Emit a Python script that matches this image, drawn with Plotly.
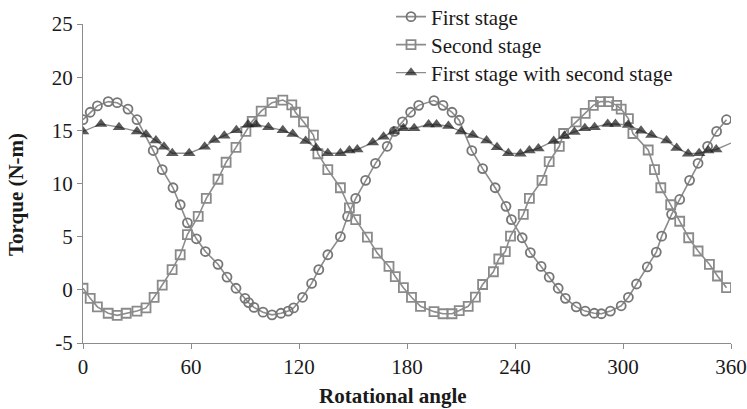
import plotly.graph_objects as go

# First stage
first_x = [0, 4, 8, 14, 19, 25, 30, 39, 44, 50, 54, 58, 63, 68, 75, 80, 85, 90, 92, 95,
           100, 105, 110, 114, 117, 122, 127, 131, 136, 143, 147, 151.5, 157, 162.5, 169,
           173, 177.5, 182, 186.5, 195, 200, 205, 209, 216, 222, 229, 235, 238, 244, 248.5,
           254.5, 259, 264, 268, 274, 279, 284, 288, 293, 299, 303, 307.5, 313.5, 318.5,
           321.5, 327, 331.5, 337, 341.7, 347, 352, 357.5]
first_y = [16.0, 16.7, 17.3, 17.7, 17.6, 17.0, 16.0, 13.1, 11.3, 9.6, 8.0, 6.3, 4.8, 3.6,
           2.4, 1.2, 0.15, -0.8, -1.2, -1.65, -2.1, -2.35, -2.2, -2.0, -1.7, -0.7, 0.6, 1.9,
           3.3, 5.0, 6.9, 8.6, 10.3, 11.9, 13.5, 14.9, 15.8, 16.7, 17.35, 17.8, 17.35, 16.7,
           15.95, 13.1, 11.4, 9.6, 7.85, 6.6, 4.9, 3.5, 2.2, 1.2, 0.15, -0.8, -1.6, -2.0,
           -2.2, -2.25, -2.0, -1.5, -0.7, 0.55, 2.15, 3.55, 5.05, 7.1, 8.5, 10.3, 11.9, 13.5,
           14.9, 16.0]

# Second stage
second_x = [0, 4, 8, 14, 19, 24, 30, 35, 39.5, 44, 49.5, 54, 58, 64, 68.5, 75, 79.5, 85,
            90.5, 94, 99, 105, 111, 116, 118, 122.5, 128, 130.5, 136, 143, 148, 151.5, 158,
            163.5, 170, 173.5, 178, 182.5, 187.5, 195, 200, 205, 209, 214, 218, 222, 228,
            231, 234.6, 237.5, 244.6, 248, 255, 259, 264.6, 267, 274, 279, 283.5, 287.5,
            292, 296.5, 299, 303, 305.5, 314, 317.5, 321, 326.5, 331.5, 336.5, 341.7, 348,
            352.5, 357.5]
second_y = [0.15, -0.8, -1.6, -2.2, -2.4, -2.2, -2.0, -1.7, -0.7, 0.45, 1.9, 3.3, 5.2, 6.9,
            8.6, 10.4, 12.0, 13.4, 14.9, 15.85, 16.8, 17.6, 17.85, 17.4, 16.7, 15.8, 14.55,
            12.8, 11.3, 9.6, 7.7, 6.6, 4.95, 3.45, 2.2, 1.25, 0.2, -0.7, -1.55, -2.05, -2.25,
            -2.25, -1.95, -1.55, -0.68, 0.5, 1.7, 2.9, 3.6, 5.05, 7.1, 8.6, 10.3, 12.05,
            13.5, 14.7, 15.8, 16.6, 17.35, 17.7, 17.7, 17.35, 17.0, 16.1, 14.7, 13.15, 11.3,
            9.6, 8.0, 6.45, 4.9, 3.65, 2.4, 1.3, 0.2]

# First stage with second stage
both_x = [0, 10, 20, 30, 35, 40.5, 45, 49.6, 59, 67.6, 73, 78.5, 85.2, 91.7, 96, 103, 111,
          116.5, 123.7, 129.5, 136, 143, 148, 152.4, 161, 167, 172.6, 178, 184, 192, 196.4,
          203, 210, 216.5, 224.2, 230, 236.3, 243, 248, 253, 261.5, 267.5, 273, 278.8,
          284.2, 291.5, 295.8, 302.8, 310, 315.8, 324.2, 329.8, 336.2, 342.3, 347.3, 351.8,
          360]
both_y = [14.9, 15.6, 15.3, 14.9, 14.6, 14.05, 13.45, 12.85, 12.85, 13.45, 14.1, 14.5, 15.0,
          15.55, 15.55, 15.3, 15.0, 14.65, 14.0, 13.35, 12.85, 12.85, 13.1, 13.2, 13.85,
          14.4, 14.9, 15.2, 15.2, 15.55, 15.55, 15.4, 14.9, 14.55, 14.05, 13.4, 12.85, 12.8,
          13.1, 13.3, 14.0, 14.5, 14.85, 15.2, 15.3, 15.6, 15.6, 15.5, 14.95, 14.55, 14.05,
          13.35, 12.8, 12.85, 13.1, 13.2, 13.8]

x_ticks = [0, 60, 120, 180, 240, 300, 360]
y_ticks = [-5, 0, 5, 10, 15, 20, 25]

LINE = "#8c8c8c"
SERIF = "Liberation Serif"
TXT = "#1a1a1a"
FS = 21

fig = go.Figure()
fig.add_trace(go.Scatter(
    x=first_x, y=first_y, mode="lines+markers", name="First stage",
    legend="legend",
    line=dict(color=LINE, width=1.6),
    marker=dict(symbol="circle-open", size=9, color="#767676", line=dict(width=1.8)),
))
fig.add_trace(go.Scatter(
    x=second_x, y=second_y, mode="lines+markers", name="Second stage",
    legend="legend2",
    line=dict(color=LINE, width=1.6),
    marker=dict(symbol="square-open", size=9, color="#8a8a8a", line=dict(width=1.8)),
))
sizes = [11] * (len(both_x) - 1) + [0]
fig.add_trace(go.Scatter(
    x=both_x, y=both_y, mode="lines+markers", name="First stage with second stage",
    legend="legend3",
    line=dict(color=LINE, width=1.4),
    marker=dict(symbol="triangle-up", size=sizes, color="#151515", line=dict(width=0)),
))

L, R, T, B = 83, 16, 24, 66
W, H = 747, 409
PW, PH = W - L - R, H - T - B


def px_x(px):
    return (px - L) / PW


def px_y(py):
    return (H - B - py) / PH


def leg(row_y):
    return dict(
        x=px_x(391), y=px_y(row_y), xanchor="left", yanchor="middle",
        bgcolor="rgba(0,0,0,0)", borderwidth=0,
        font=dict(family=SERIF, size=FS, color=TXT), itemwidth=30,
    )


fig.update_layout(
    width=W, height=H,
    margin=dict(l=L, r=R, t=T, b=B, autoexpand=False),
    paper_bgcolor="white", plot_bgcolor="white",
    font=dict(family=SERIF, size=FS, color=TXT),
    showlegend=True,
    legend=leg(17), legend2=leg(45), legend3=leg(73),
    xaxis=dict(
        range=[0, 360], tickvals=x_ticks, ticktext=[str(v) for v in x_ticks],
        showgrid=False, zeroline=False, automargin=False,
        showline=True, linecolor="#8c8c8c", linewidth=1.2,
        ticks="outside", ticklen=5, tickcolor="#8c8c8c", tickwidth=1.2,
        tickfont=dict(family=SERIF, size=FS, color=TXT),
    ),
    yaxis=dict(
        range=[-5, 25], tickvals=y_ticks, ticktext=[str(v) for v in y_ticks],
        showgrid=False, zeroline=False, automargin=False,
        showline=True, linecolor="#8c8c8c", linewidth=1.2,
        ticks="outside", ticklen=5, tickcolor="#8c8c8c", tickwidth=1.2,
        tickfont=dict(family=SERIF, size=FS, color=TXT),
    ),
    annotations=[
        dict(text="<b>Rotational angle</b>", xref="paper", yref="paper",
             x=px_x(393), y=px_y(396), xanchor="center", yanchor="middle",
             showarrow=False, font=dict(family=SERIF, size=FS, color=TXT)),
        dict(text="<b>Torque (N-m)</b>", xref="paper", yref="paper",
             x=px_x(16), y=px_y(195), xanchor="center", yanchor="middle",
             textangle=-90, showarrow=False, font=dict(family=SERIF, size=FS, color=TXT)),
    ],
)

fig.write_html("out.html")
